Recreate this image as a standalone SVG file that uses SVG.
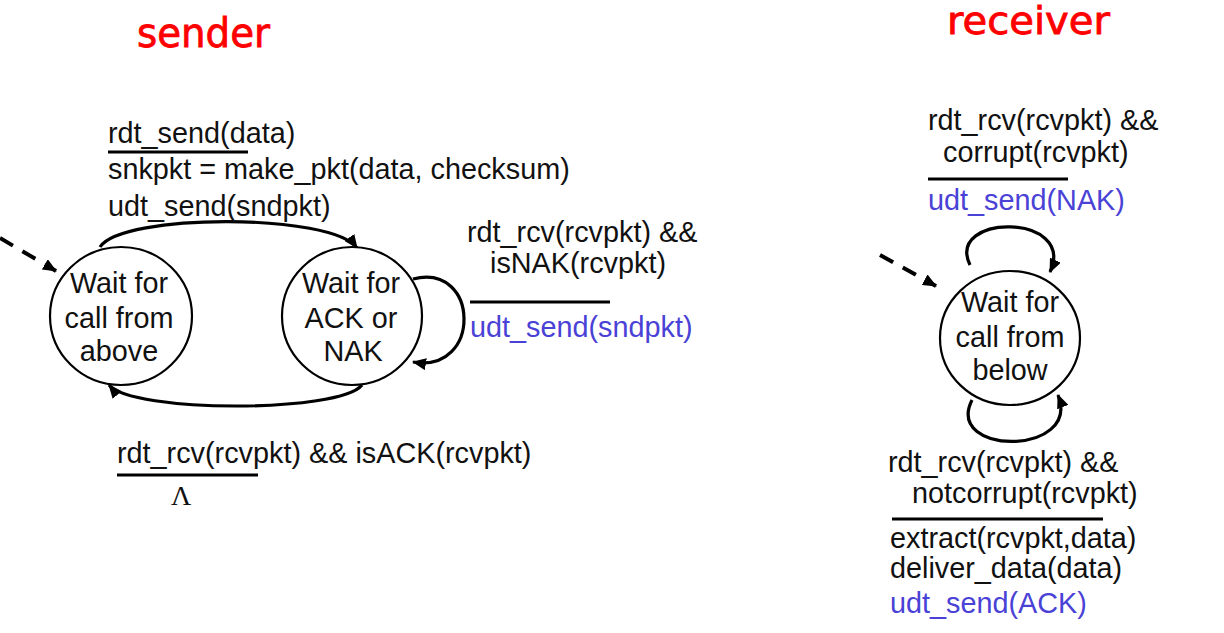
<svg xmlns="http://www.w3.org/2000/svg" width="1224" height="633" viewBox="0 0 1224 633">
<defs>
<marker id="ah" markerUnits="userSpaceOnUse" markerWidth="14" markerHeight="12" refX="13" refY="6" orient="auto">
<path d="M0,0 L14,6 L0,12 z" fill="#000"/>
</marker>
<style>
.t{font-family:"Liberation Sans",Arial,sans-serif;font-size:28.8px;fill:#111}
.b{fill:#4a42d6}
.c{text-anchor:middle}
.ttl{font-family:"DejaVu Sans","Noto Sans",sans-serif;fill:#ff0000;stroke:#ff0000;stroke-width:0.8}
.st{fill:#fff;stroke:#000;stroke-width:2.2}
.e{fill:none;stroke:#000;stroke-width:3.2}
.d{fill:none;stroke:#000;stroke-width:4;stroke-dasharray:15 11}
.rule{stroke:#000;stroke-width:3.2}
</style>
</defs>
<rect width="1224" height="633" fill="#fff"/>
<text class="ttl" x="137" y="47" font-size="40" textLength="133" lengthAdjust="spacingAndGlyphs">sender</text>
<text class="ttl" x="947" y="34" font-size="37" textLength="163" lengthAdjust="spacingAndGlyphs">receiver</text>

<g id="connectors">
<path class="d" d="M0,238 L56,271" marker-end="url(#ah)"/>
<path class="e" d="M100,247 C122,213 332,213 357,248" marker-end="url(#ah)"/>
<path class="e" d="M362,385 C340,413 132,413 109,385" marker-end="url(#ah)"/>
<path class="e" d="M413,279 C480,262 482,374 413,362" marker-end="url(#ah)"/>
<path class="d" d="M880,255 L936,286" marker-end="url(#ah)"/>
<path class="e" d="M970,265 C945,213 1077,213 1050,272" marker-end="url(#ah)"/>
<path class="e" d="M972,400 C944,456 1082,456 1058,395" marker-end="url(#ah)"/>
</g>

<g id="s_wait_above">
<ellipse class="st" cx="121" cy="316" rx="71" ry="69"/>
<text class="t c" x="119" y="293">Wait for</text>
<text class="t c" x="119" y="328">call from</text>
<text class="t c" x="119" y="361">above</text>
</g>
<g id="s_wait_ack">
<ellipse class="st" cx="352" cy="316" rx="70" ry="69"/>
<text class="t c" x="351" y="293">Wait for</text>
<text class="t c" x="351" y="328">ACK or</text>
<text class="t c" x="353" y="361">NAK</text>
</g>
<g id="r_wait_below">
<ellipse class="st" cx="1010" cy="338" rx="70" ry="67"/>
<text class="t c" x="1010" y="312">Wait for</text>
<text class="t c" x="1010" y="347">call from</text>
<text class="t c" x="1010" y="380">below</text>
</g>

<g id="labels">
<text class="t" x="108" y="143">rdt_send(data)</text>
<line class="rule" x1="108" y1="152" x2="248" y2="152"/>
<text class="t" x="108" y="179">snkpkt = make_pkt(data, checksum)</text>
<text class="t" x="108" y="216">udt_send(sndpkt)</text>

<text class="t" x="467" y="242">rdt_rcv(rcvpkt) &amp;&amp;</text>
<text class="t" x="490" y="273">isNAK(rcvpkt)</text>
<line class="rule" x1="470" y1="302" x2="610" y2="302"/>
<text class="t b" x="470" y="337">udt_send(sndpkt)</text>

<text class="t" x="117" y="463">rdt_rcv(rcvpkt) &amp;&amp; isACK(rcvpkt)</text>
<line class="rule" x1="117" y1="475" x2="258" y2="475"/>
<text x="171" y="505" style="font-family:'Liberation Serif','Times New Roman',serif;font-size:28px;fill:#111">Λ</text>

<text class="t" x="928" y="130">rdt_rcv(rcvpkt) &amp;&amp;</text>
<text class="t" x="943" y="162">corrupt(rcvpkt)</text>
<line class="rule" x1="928" y1="179" x2="1068" y2="179"/>
<text class="t b" x="928" y="210">udt_send(NAK)</text>

<text class="t" x="888" y="472">rdt_rcv(rcvpkt) &amp;&amp;</text>
<text class="t" x="912" y="503">notcorrupt(rcvpkt)</text>
<line class="rule" x1="892" y1="519" x2="1103" y2="519"/>
<text class="t" x="890" y="548">extract(rcvpkt,data)</text>
<text class="t" x="890" y="578">deliver_data(data)</text>
<text class="t b" x="890" y="613">udt_send(ACK)</text>
</g>
</svg>
